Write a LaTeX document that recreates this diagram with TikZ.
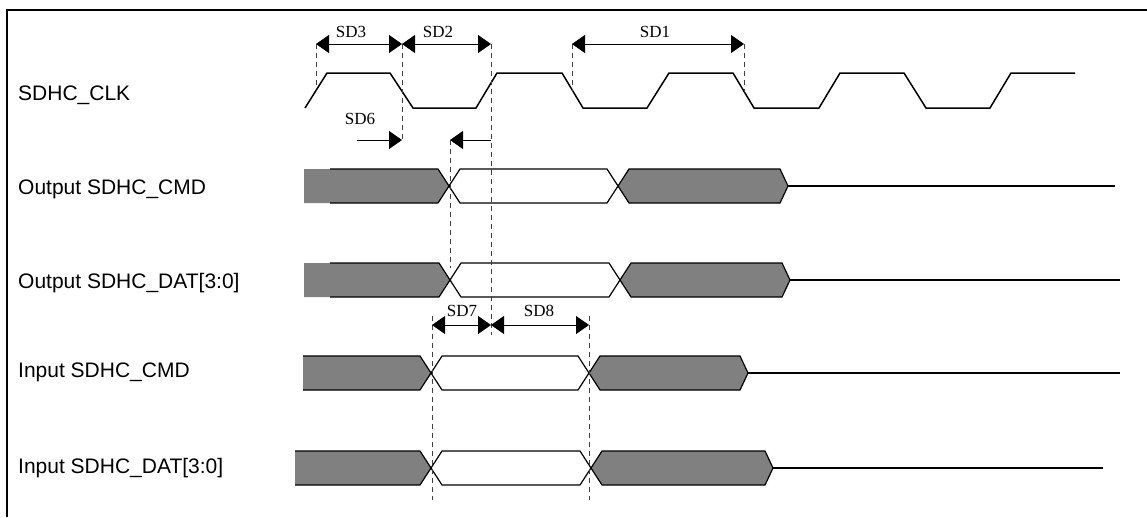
\documentclass[tikz,border=0pt]{standalone}
\usepackage{fontspec}
\setmainfont{Liberation Serif}
\newfontfamily\sigfont{Liberation Sans}
\usetikzlibrary{arrows.meta}

\begin{document}
\begin{tikzpicture}[
    % one unit is one pixel of the drawing, y grows downwards
    x=1pt, y=-1pt,
    % styles for the elements
    frame_style/.style={draw=black, line width=1.3pt},
    clk_style/.style={draw=black, line width=1.5pt, line join=miter},
    bus_style/.style={draw=black, line width=1.2pt, line join=miter},
    grey_style/.style={fill=black!50},
    guide_style/.style={draw=black!75, line width=0.8pt, dash pattern=on 5pt off 4pt},
    dim_style/.style={draw=black, line width=0.8pt,
      {Triangle[length=13pt,width=18pt]}-{Triangle[length=13pt,width=18pt]}},
    half_style/.style={draw=black, line width=0.8pt, -{Triangle[length=13pt,width=18pt]}},
    sig_label/.style={anchor=base west, inner sep=0pt, font=\sigfont\fontsize{21}{24}\selectfont},
    sd_label/.style={inner sep=0pt, font=\fontsize{17}{19}\selectfont}
  ]

  \useasboundingbox (0,0) rectangle (1147,517);

  % --- Frame (only its top and left sides are in the picture) ---
  \draw[frame_style] (7,517) -- (7,10) -- (1147,10);

  % --- Signal names ---
  \node[sig_label] (n_clk)  at (18,100) {SDHC\_CLK};
  \node[sig_label] (n_ocmd) at (18,194) {Output SDHC\_CMD};
  \node[sig_label] (n_odat) at (18,288) {Output SDHC\_DAT[3:0]};
  \node[sig_label] (n_icmd) at (18,377) {Input SDHC\_CMD};
  \node[sig_label] (n_idat) at (18,473) {Input SDHC\_DAT[3:0]};

  % --- Clock ---
  \draw[clk_style] (305,108) -- (327,73) -- (390,73) -- (413,108) -- (476,108)
    -- (497,73) -- (562,73) -- (583,108) -- (647,108) -- (669,73) -- (733,73)
    -- (754,108) -- (819,108) -- (840,73) -- (904,73) -- (926,108) -- (990,108)
    -- (1011,73) -- (1075,73);

  % --- Buses: centre / grey start / line start / crossing 1 / crossing 2 / point / end ---
  \foreach \y/\s/\l/\xa/\xb/\xp/\e in {186/304/330/449/618/788/1115,
                                        280/304/330/450/620/790/1120,
                                        373/303/303/431/589/748/1120,
                                        468/295/295/431/591/773/1103}{
    % old data, grey
    \fill[grey_style] (\s,\y-17) -- (\xa-11,\y-17) -- (\xa,\y) -- (\xa-11,\y+17)
      -- (\s,\y+17) -- cycle;
    \draw[bus_style] (\l,\y-17) -- (\xa-11,\y-17) -- (\xa,\y) -- (\xa-11,\y+17)
      -- (\l,\y+17);
    % valid data, white
    \draw[bus_style] (\xa,\y) -- (\xa+11,\y-17) -- (\xb-11,\y-17) -- (\xb,\y)
      -- (\xb-11,\y+17) -- (\xa+11,\y+17) -- cycle;
    % next data, grey
    \filldraw[bus_style, grey_style] (\xb,\y) -- (\xb+11,\y-17) -- (\xp-8,\y-17)
      -- (\xp,\y) -- (\xp-8,\y+17) -- (\xb+11,\y+17) -- cycle;
    % idle line
    \draw[bus_style] (\xp,\y) -- (\e,\y);
  }

  % --- Timing marks ---
  \coordinate (sd3_a) at (316,44);
  \coordinate (sd3_b) at (402,44);
  \coordinate (sd2_b) at (491,44);
  \coordinate (sd1_a) at (572,44);
  \coordinate (sd1_b) at (744,44);
  \coordinate (sd6_a) at (357,140);
  \coordinate (sd6_b) at (402,140);
  \coordinate (sd6_c) at (491,140);
  \coordinate (sd6_d) at (450,140);
  \coordinate (sd7_a) at (432,325);
  \coordinate (sd7_b) at (491,325);
  \coordinate (sd8_b) at (589,325);

  % dashed guides
  \draw[guide_style] (sd3_a) -- (316,85);
  \draw[guide_style] (sd3_b) -- (402,142);
  \draw[guide_style] (sd2_b) -- (491,335);
  \draw[guide_style] (sd1_a) -- (572,92);
  \draw[guide_style] (sd1_b) -- (744,92);
  \draw[guide_style] (sd6_d) -- (450,268);
  \draw[guide_style] (432,316) -- (432,500);
  \draw[guide_style] (589,316) -- (589,500);

  % arrows
  \draw[dim_style] (sd3_a) -- (sd3_b);
  \draw[dim_style] (sd3_b) -- (sd2_b);
  \draw[dim_style] (sd1_a) -- (sd1_b);
  \draw[half_style] (sd6_a) -- (sd6_b);
  \draw[half_style] (sd6_c) -- (sd6_d);
  \draw[dim_style] (sd7_a) -- (sd7_b);
  \draw[dim_style] (sd7_b) -- (sd8_b);

  % labels
  \node[sd_label] (l_sd3) at (351,32) {SD3};
  \node[sd_label] (l_sd2) at (438,32) {SD2};
  \node[sd_label] (l_sd1) at (655,32) {SD1};
  \node[sd_label] (l_sd6) at (360,119) {SD6};
  \node[sd_label] (l_sd7) at (462,311) {SD7};
  \node[sd_label] (l_sd8) at (539,311) {SD8};

\end{tikzpicture}
\end{document}
